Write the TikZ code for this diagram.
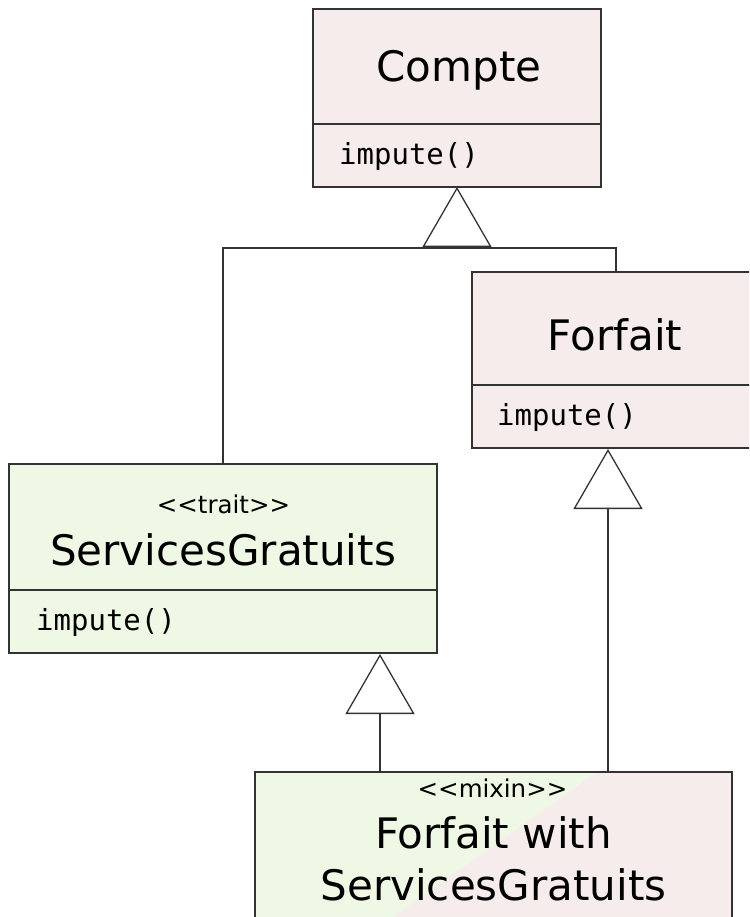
\documentclass[tikz,border=0pt]{standalone}
\usepackage{fontspec}
\setmainfont{DejaVu Sans}
\setmonofont{DejaVu Sans Mono}
\usetikzlibrary{arrows.meta}
\definecolor{rose}{HTML}{F6ECEB}
\definecolor{mint}{HTML}{EFF8E4}
\definecolor{ink}{HTML}{333333}
\begin{document}
\begin{tikzpicture}[x=1pt,y=-1pt,part/.style={draw=ink,line width=1.3pt,inner sep=0pt,outer sep=0pt},classname/.style={anchor=base,inner sep=0pt,font=\fontsize{42}{50}\selectfont},stereo/.style={anchor=base,inner sep=0pt,font=\fontsize{24.5}{30}\selectfont},op/.style={anchor=base west,inner sep=0pt,font=\ttfamily\fontsize{29}{35}\selectfont},inh/.style={-{Triangle[open,length=60pt,width=69pt]},draw=ink,line width=1.3pt},link/.style={draw=ink,line width=1.3pt}]
\useasboundingbox (0,0) rectangle (749,917);
\clip (0,0) rectangle (749,917);
\node[part,fill=rose,minimum width=288pt,minimum height=115pt] (comptehead) at (457,66.5) {};
\node[part,fill=rose,minimum width=288pt,minimum height=63pt] (compteops) at (457,155.5) {};
\node[part,fill=rose,minimum width=285pt,minimum height=113pt] (forfaithead) at (614.5,328.5) {};
\node[part,fill=rose,minimum width=285pt,minimum height=63pt] (forfaitops) at (614.5,416.5) {};
\node[part,fill=mint,minimum width=428pt,minimum height=126pt] (sghead) at (223,527) {};
\node[part,fill=mint,minimum width=428pt,minimum height=63pt] (sgops) at (223,621.5) {};
\node[part,fill=mint,minimum width=477pt,minimum height=180pt,path picture={\fill[rose] ([xshift=342pt]path picture bounding box.north west) -- (path picture bounding box.north east) -- (path picture bounding box.south east) -- ([xshift=89pt]path picture bounding box.south west) -- cycle;}] (mixin) at (493.5,862) {};
\node[classname] (comptename) at (459,82) {Compte};
\node[op] (compteop) at (339,165) {impute()};
\node[classname] (forfaitname) at (615,350) {Forfait};
\node[op] (forfaitop) at (497,425) {impute()};
\node[stereo] (sgstereo) at (223.5,513) {<\kern0pt<trait>\kern0pt>};
\node[classname] (sgname) at (223,565) {ServicesGratuits};
\node[op] (sgop) at (36,630) {impute()};
\node[stereo] (mixinstereo) at (492.5,797) {<\kern0pt<mixin>\kern0pt>};
\node[classname] (mixinname) at (493.5,848) {Forfait with};
\node[classname] (mixinname2) at (493.5,900) {ServicesGratuits};
\coordinate (join) at (457,248);
\coordinate (forfaittip) at (608,449);
\coordinate (sgtip) at (380,654);
\draw[link] (sghead.north) |- (join) -| ([xshift=1.5pt]forfaithead.north);
\draw[inh] (join) -- (compteops.south);
\draw[inh] (mixin.north -| forfaittip) -- (forfaittip);
\draw[inh] (mixin.north -| sgtip) -- (sgtip);
\end{tikzpicture}
\end{document}
